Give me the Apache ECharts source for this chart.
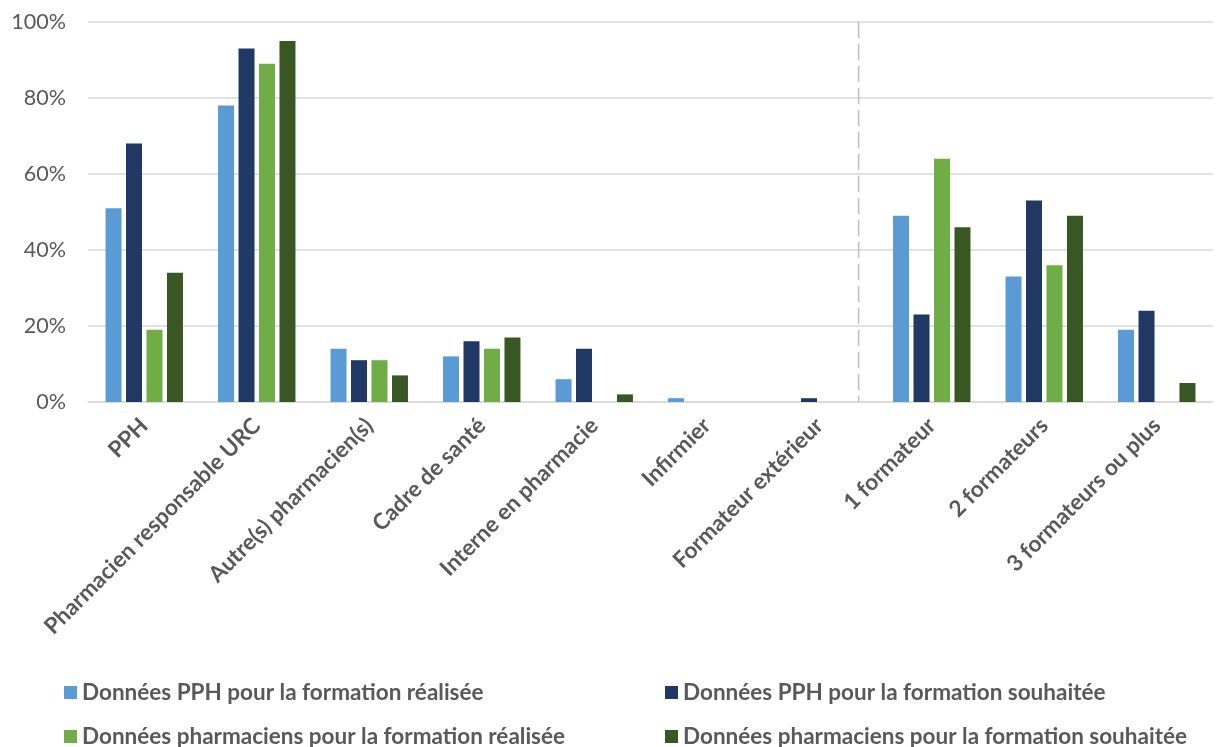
<!DOCTYPE html>
<html>
<head>
<meta charset="utf-8">
<script src="https://cdn.jsdelivr.net/npm/echarts@6/dist/echarts.min.js"></script>
<style>
html, body { margin: 0; padding: 0; background: #fff; }
#chart { width: 1216px; height: 747px; }
</style>
</head>
<body>
<div id="chart"></div>
<script>
var categories = [
  "PPH",
  "Pharmacien responsable URC",
  "Autre(s) pharmacien(s)",
  "Cadre de santé",
  "Interne en pharmacie",
  "Infirmier",
  "Formateur extérieur",
  "1 formateur",
  "2 formateurs",
  "3 formateurs ou plus"
];
var seriesNames = [
  "Données PPH pour la formation réalisée",
  "Données PPH pour la formation souhaitée",
  "Données pharmaciens pour la formation réalisée",
  "Données pharmaciens pour la formation souhaitée"
];
var pphRealisee = [51, 78, 14, 12, 6, 1, 0, 49, 33, 19];
var pphSouhaitee = [68, 93, 11, 16, 14, 0, 1, 23, 53, 24];
var pharmaRealisee = [19, 89, 11, 14, 0, 0, 0, 64, 36, 0];
var pharmaSouhaitee = [34, 95, 7, 17, 2, 0, 0, 46, 49, 5];
var colors = ["#5b9bd5", "#203864", "#70ad47", "#385723"];

var textColor = "#595959";
var font = "Lato";

function barSeries(name, data, color) {
  return {
    name: name,
    type: "bar",
    data: data,
    barWidth: 16,
    barGap: "28%",
    itemStyle: { color: color }
  };
}

// one legend per entry so the 2x2 grid sits where the original puts it
function legendItem(left, top, name) {
  return {
    left: left, top: top, padding: 0,
    itemWidth: 13, itemHeight: 13, icon: "rect",
    data: [name],
    textStyle: { color: textColor, fontFamily: font, fontWeight: "bold", fontSize: 22.5 }
  };
}

var myChart = echarts.init(document.getElementById("chart"));
var option = {
  animation: false,
  grid: { left: 88, right: 3, top: 22, bottom: 345 },
  legend: [
    legendItem(64, 681, seriesNames[0]),
    legendItem(665, 681, seriesNames[1]),
    legendItem(64, 725, seriesNames[2]),
    legendItem(665, 725, seriesNames[3])
  ],
  xAxis: {
    type: "category",
    data: categories,
    axisTick: { show: false },
    axisLine: { lineStyle: { color: "#d9d9d9", width: 1.5 } },
    axisLabel: {
      interval: 0, rotate: 45, margin: 20,
      color: textColor, fontFamily: font, fontWeight: "bold", fontSize: 22.5
    }
  },
  yAxis: {
    type: "value",
    min: 0, max: 100, interval: 20,
    axisLabel: { formatter: "{value}%", color: textColor, fontFamily: font, fontSize: 21.5, margin: 22 },
    splitLine: { lineStyle: { color: "#d9d9d9", width: 1.5 } }
  },
  series: [
    barSeries(seriesNames[0], pphRealisee, colors[0]),
    barSeries(seriesNames[1], pphSouhaitee, colors[1]),
    barSeries(seriesNames[2], pharmaRealisee, colors[2]),
    barSeries(seriesNames[3], pharmaSouhaitee, colors[3])
  ]
};
myChart.setOption(option);

// dashed separator between the role categories and the formateur counts
var px6 = myChart.convertToPixel({ xAxisIndex: 0 }, categories[6]);
var px7 = myChart.convertToPixel({ xAxisIndex: 0 }, categories[7]);
var yTop = myChart.convertToPixel({ yAxisIndex: 0 }, 100);
var yBottom = myChart.convertToPixel({ yAxisIndex: 0 }, 0);
var sepX = px6 + (px7 - px6) * 0.35;
myChart.setOption({
  graphic: [{
    type: "line",
    shape: { x1: sepX, y1: yTop, x2: sepX, y2: yBottom },
    style: { stroke: "#bfbfbf", lineWidth: 1.5, lineDash: [16, 6] },
    z: 1
  }]
});
</script>
</body>
</html>
